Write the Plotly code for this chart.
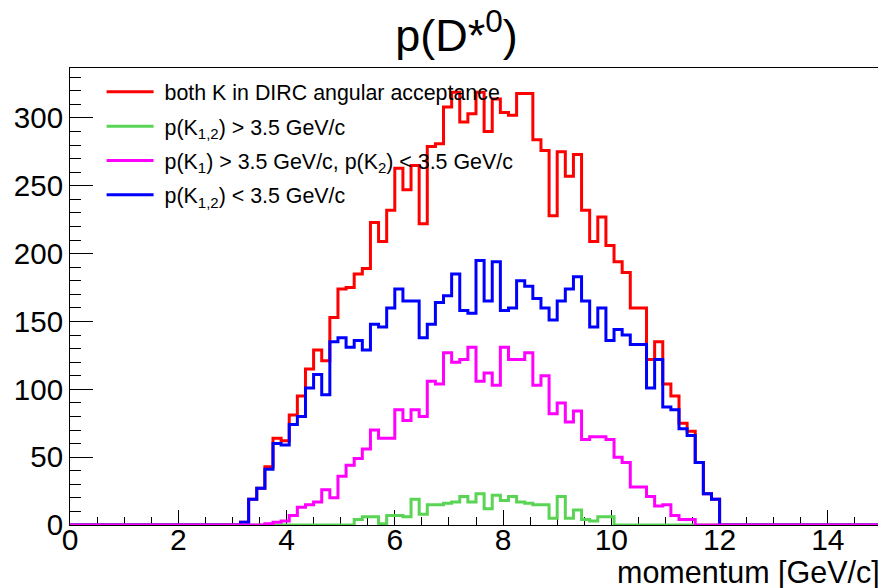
import plotly.graph_objects as go

# histogram binning: 100 bins of 0.15 GeV/c from 0 to 15
x_min, x_max, n_bins = 0.0, 15.0, 100

series_names = [
    "&nbsp;both K in DIRC angular acceptance",
    "&nbsp;p(K<sub>1,2</sub>) &gt; 3.5 GeV/c",
    "&nbsp;p(K<sub>1</sub>) &gt; 3.5 GeV/c, p(K<sub>2</sub>) &lt; 3.5 GeV/c",
    "&nbsp;p(K<sub>1,2</sub>) &lt; 3.5 GeV/c",
]

counts_both = [
    0, 0, 0, 0, 0, 0, 0, 0, 0, 0,
    0, 0, 0, 0, 0, 0, 0, 0, 0, 0,
    0, 2, 19, 27, 43, 64, 62, 81, 95, 115,
    129, 121, 153, 174, 175, 185, 189, 223, 209, 232,
    263, 247, 265, 222, 279, 281, 308, 319, 297, 303,
    319, 290, 314, 304, 302, 318, 318, 284, 276, 228,
    275, 257, 273, 232, 209, 227, 206, 194, 186, 160,
    160, 122, 135, 104, 95, 75, 69, 46, 23, 19,
    0, 0, 0, 0, 0, 0, 0, 0, 0, 0,
    0, 0, 0, 0, 0, 0, 0, 0, 0, 0,
]

counts_high = [
    0, 0, 0, 0, 0, 0, 0, 0, 0, 0,
    0, 0, 0, 0, 0, 0, 0, 0, 0, 0,
    0, 0, 0, 0, 0, 0, 0, 0, 0, 0,
    0, 0, 0, 0, 0, 4, 6, 6, 1, 7,
    7, 6, 19, 8, 15, 15, 16, 17, 21, 17,
    23, 12, 22, 18, 21, 17, 16, 15, 15, 5,
    21, 5, 11, 4, 3, 6, 6, 0, 0, 0,
    0, 0, 0, 0, 0, 0, 0, 0, 0, 0,
    0, 0, 0, 0, 0, 0, 0, 0, 0, 0,
    0, 0, 0, 0, 0, 0, 0, 0, 0, 0,
]

counts_mixed = [
    0, 0, 0, 0, 0, 0, 0, 0, 0, 0,
    0, 0, 0, 0, 0, 0, 0, 0, 0, 0,
    0, 0, 0, 0, 1, 2, 3, 7, 13, 15,
    17, 26, 20, 36, 44, 49, 56, 70, 64, 64,
    85, 77, 85, 80, 106, 104, 127, 120, 122, 131,
    106, 112, 103, 131, 122, 122, 127, 103, 110, 82,
    90, 76, 84, 63, 65, 65, 63, 50, 46, 28,
    28, 21, 14, 15, 7, 4, 4, 0, 0, 0,
    0, 0, 0, 0, 0, 0, 0, 0, 0, 0,
    0, 0, 0, 0, 0, 0, 0, 0, 0, 0,
]

counts_low = [
    0, 0, 0, 0, 0, 0, 0, 0, 0, 0,
    0, 0, 0, 0, 0, 0, 0, 0, 0, 0,
    0, 2, 19, 27, 41, 60, 59, 74, 80, 101,
    111, 96, 135, 138, 131, 136, 129, 148, 146, 160,
    174, 165, 165, 138, 148, 164, 169, 185, 158, 156,
    195, 165, 194, 158, 160, 180, 176, 167, 160, 151,
    165, 174, 183, 165, 146, 160, 136, 144, 140, 133,
    133, 101, 122, 87, 85, 71, 66, 46, 23, 19,
    0, 0, 0, 0, 0, 0, 0, 0, 0, 0,
    0, 0, 0, 0, 0, 0, 0, 0, 0, 0,
]

colors = ["#FF0000", "#59D454", "#FF00FF", "#0000FF"]

bin_width = (x_max - x_min) / n_bins
edges = [x_min + i * bin_width for i in range(n_bins + 1)]

FONT = "Liberation Sans, Arial, Helvetica, sans-serif"

fig = go.Figure()

# drawing order: red, green, blue, magenta (magenta on top at baseline)
draw_order = [0, 1, 3, 2]
all_counts = [counts_both, counts_high, counts_mixed, counts_low]
for idx in draw_order:
    vals = all_counts[idx]
    fig.add_trace(go.Scatter(
        x=edges,
        y=list(vals) + [vals[-1]],
        mode="lines",
        line=dict(color=colors[idx], width=3, shape="hv"),
        name=series_names[idx],
        legendgroup="g%d" % idx,
        legendrank=idx + 1,
        cliponaxis=False,
        hoverinfo="skip",
    ))

# page body adds an 8px margin, so the figure is 878x580 inside the 886x588 window
W, H = 878, 580
fig.update_layout(
    width=W,
    height=H,
    margin=dict(l=62, r=4, t=60, b=63, autoexpand=False),
    paper_bgcolor="white",
    plot_bgcolor="white",
    font=dict(family=FONT, color="black"),
    title=dict(
        text="p(D*<sup>0</sup>)",
        x=448.5 / W, xanchor="center", xref="container",
        y=1 - 27 / H, yanchor="middle", yref="container",
        font=dict(size=45, family=FONT, color="black"),
    ),
    showlegend=True,
    legend=dict(
        x=0.0389, y=0.9925, xanchor="left", yanchor="top",
        bgcolor="rgba(0,0,0,0)",
        font=dict(size=21.4, family=FONT, color="black"),
        itemwidth=47,
        traceorder="grouped",
        tracegroupgap=3.5,
    ),
    annotations=[dict(
        text="momentum [GeV/c]",
        x=1.0, xref="paper", xanchor="right",
        y=-47 / 457, yref="paper", yanchor="middle",
        showarrow=False,
        font=dict(size=30.5, family=FONT, color="black"),
    )],
)

fig.update_xaxes(
    range=[x_min, x_max],
    tick0=0, dtick=2,
    ticks="inside", ticklen=15, tickwidth=1, tickcolor="black",
    minor=dict(dtick=0.5, ticks="inside", ticklen=8, tickwidth=1, tickcolor="black"),
    showline=True, linecolor="black", linewidth=1, mirror=True,
    showgrid=False, zeroline=False,
    tickfont=dict(size=30, family=FONT, color="black"),
    ticklabelstandoff=-12,
    automargin=False,
    layer="below traces",
)
fig.update_yaxes(
    range=[0, 336.8],
    tick0=0, dtick=50,
    ticks="inside", ticklen=23, tickwidth=1, tickcolor="black",
    minor=dict(dtick=10, ticks="inside", ticklen=11, tickwidth=1, tickcolor="black"),
    showline=True, linecolor="black", linewidth=1, mirror=True,
    showgrid=False, zeroline=False,
    tickfont=dict(size=29.5, family=FONT, color="black"),
    ticklabelstandoff=0,
    automargin=False,
    layer="below traces",
)

fig.write_html("out.html")
